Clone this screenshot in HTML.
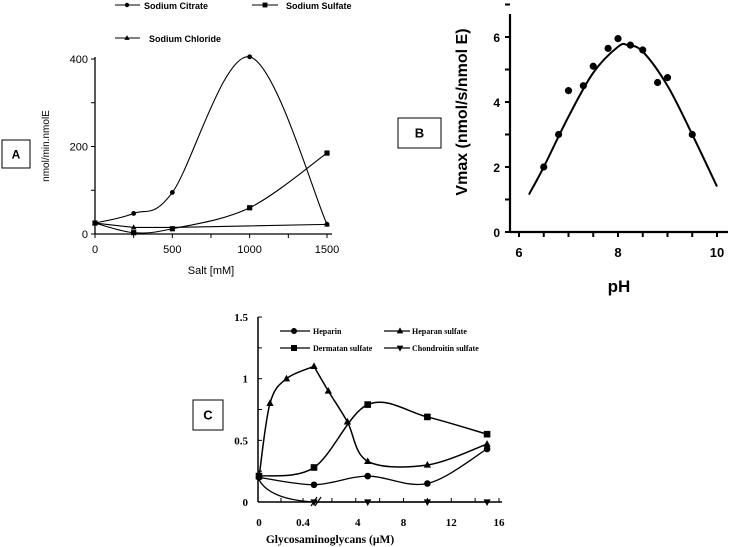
<!DOCTYPE html>
<html><head><meta charset="utf-8">
<style>
html,body{margin:0;padding:0;background:#fff;}
svg{display:block;}
.sa{font-family:"Liberation Sans",sans-serif;}
.ss{font-family:"Liberation Serif",serif;font-weight:bold;}
</style></head>
<body>
<svg id="c" width="729" height="547" viewBox="0 0 729 547" xmlns="http://www.w3.org/2000/svg"></svg>
<script>
// ---- Panel A data ----
const aX = [0, 250, 500, 1000, 1500];
const aCitrate = [25, 47, 95, 405, 22];
const aSulfate = [25, 3, 12, 60, 185];
const aChlorX = [0, 250, 500, 1500];
const aChloride = [25, 15, 15, 22];
const aXTicks = [0, 500, 1000, 1500];
const aYTicks = [0, 200, 400];
// ---- Panel B data ----
const bPtX = [6.5, 6.8, 7.0, 7.3, 7.5, 7.8, 8.0, 8.25, 8.5, 8.8, 9.0, 9.5];
const bPtY = [2.0, 3.0, 4.35, 4.5, 5.1, 5.65, 5.95, 5.75, 5.6, 4.6, 4.75, 3.0];
const bFitX = [6.2, 6.5, 7.0, 7.5, 8.0, 8.2, 8.5, 9.0, 9.5, 10.0];
const bFitY = [1.15, 2.0, 3.55, 4.9, 5.7, 5.75, 5.55, 4.5, 3.0, 1.4];
const bXTicks = [6, 8, 10];
const bYTicks = [0, 2, 4, 6];
// ---- Panel C data ----
const cHepX = [0, 0.5, 5, 10, 15];
const cHeparin = [0.2, 0.14, 0.21, 0.15, 0.43];
const cHsLowX = [0, 0.1, 0.25, 0.5];
const cHsLow = [0.2, 0.8, 1.0, 1.1];
const cHsHighX = [0.5, 1.7, 3.3, 5, 10, 15];
const cHsHigh = [1.1, 0.9, 0.65, 0.33, 0.3, 0.47];
const cDerX = [0, 0.5, 5, 10, 15];
const cDermatan = [0.21, 0.28, 0.79, 0.69, 0.55];
const cChX = [0, 0.5, 5, 10, 15];
const cChondroitin = [0.18, 0, 0, 0, 0];
const cXTickVals = [0, 0.4, 4, 8, 12, 16];
const cXTickLabels = ["0", "0.4", "4", "8", "12", "16"];
const cYTicks = [0, 0.5, 1, 1.5];
const cYTickLabels = ["0", "0.5", "1", "1.5"];

const svg = document.getElementById('c');
const NS = 'http://www.w3.org/2000/svg';
function mk(tag, attrs, parent) {
  const e = document.createElementNS(NS, tag);
  for (const k in attrs) e.setAttribute(k, attrs[k]);
  (parent || svg).appendChild(e);
  return e;
}
function txt(s, x, y, cls, size, anchor, name, extra) {
  const t = mk('text', Object.assign({x: x, y: y, class: cls, 'font-size': size, 'text-anchor': anchor || 'middle', fill: '#000'}, extra || {}));
  t.textContent = s;
  
  
  return t;
}
function smooth(pts) {
  let d = 'M' + pts[0][0] + ',' + pts[0][1];
  for (let i = 0; i < pts.length - 1; i++) {
    const p0 = pts[i - 1] || pts[i], p1 = pts[i], p2 = pts[i + 1], p3 = pts[i + 2] || p2;
    const c1 = [p1[0] + (p2[0] - p0[0]) / 6, p1[1] + (p2[1] - p0[1]) / 6];
    const c2 = [p2[0] - (p3[0] - p1[0]) / 6, p2[1] - (p3[1] - p1[1]) / 6];
    d += ' C' + c1 + ' ' + c2 + ' ' + p2;
  }
  return d;
}
function line(x1, y1, x2, y2, w, name) {
  const l = mk('line', {x1: x1, y1: y1, x2: x2, y2: y2, stroke: '#000', 'stroke-width': w || 1});
  
  
  return l;
}
function marker(type, x, y, r, name) {
  let e;
  if (type === 'circle') e = mk('circle', {cx: x, cy: y, r: r, fill: '#000'});
  else if (type === 'square') e = mk('rect', {x: x - r, y: y - r, width: 2 * r, height: 2 * r, fill: '#000'});
  else if (type === 'tri') e = mk('polygon', {points: [x, y - r * 1.2, x - r * 1.1, y + r * 0.8, x + r * 1.1, y + r * 0.8].join(' '), fill: '#000'});
  else e = mk('polygon', {points: [x, y + r * 1.2, x - r * 1.1, y - r * 0.8, x + r * 1.1, y - r * 0.8].join(' '), fill: '#000'});
  
  
  return e;
}
function box(label, x, y, w, h, size) {
  const r = mk('rect', {x: x, y: y, width: w, height: h, fill: '#fff', stroke: '#000', 'stroke-width': 1});
  
  
  txt(label, x + w / 2, y + h / 2 + size * 0.36, 'sa', size, 'middle', 'panel-label-' + label.toLowerCase(), {'font-weight': 'bold'});
}
function path(d, w, name) {
  const p = mk('path', {d: d, fill: 'none', stroke: '#000', 'stroke-width': w});
  
  
  return p;
}

// ===== Panel A =====
const axA = v => 95 + v * (327 - 95) / 1500;
const ayA = v => 234 - v * (234 - 59) / 400;
line(95, 57, 95, 234, 1.3, 'a-y-axis');
line(95, 234, 332, 234, 1.3, 'a-x-axis');
for (let v = 0; v <= 1500; v += 250) line(axA(v), 234, axA(v), 238, 1, 'a-x-tick');
for (let v = 0; v <= 400; v += 100) line(91, ayA(v), 95, ayA(v), 1, 'a-y-tick');
aXTicks.forEach(v => txt(String(v), axA(v), 253, 'sa', 11, 'middle', 'a-x-tick-label'));
aYTicks.forEach(v => txt(String(v), 88, ayA(v) + 4, 'sa', 11, 'end', 'a-y-tick-label'));
txt('Salt [mM]', 211, 274, 'sa', 11, 'middle', 'a-x-axis-title');
txt('nmol/min.nmolE', 49, 146, 'sa', 10, 'middle', 'a-y-axis-title', {transform: 'rotate(-90 49 146)'});
path(smooth(aX.map((v, i) => [axA(v), ayA(aCitrate[i])])), 1.1, 'a-citrate-line');
path(smooth(aX.map((v, i) => [axA(v), ayA(aSulfate[i])])), 1.1, 'a-sulfate-line');
path('M' + aChlorX.map((v, i) => axA(v) + ',' + ayA(aChloride[i])).join(' L'), 1.1, 'a-chloride-line');
aX.forEach((v, i) => marker('circle', axA(v), ayA(aCitrate[i]), 2.4, 'a-citrate-point'));
aX.forEach((v, i) => marker('square', axA(v), ayA(aSulfate[i]), 2.6, 'a-sulfate-point'));
[0, 1, 3].forEach(i => marker('tri', axA(aChlorX[i]), ayA(aChloride[i]), 2.6, 'a-chloride-point'));
// legend A
line(115, 5, 140, 5, 1, 'a-legend-citrate-line'); marker('circle', 127, 5, 2.2, 'a-legend-citrate-marker');
txt('Sodium Citrate', 144, 9, 'sa', 9, 'start', 'a-legend-citrate', {'font-weight': 'bold'});
line(252, 5, 278, 5, 1, 'a-legend-sulfate-line'); marker('square', 265, 5, 2.4, 'a-legend-sulfate-marker');
txt('Sodium Sulfate', 286, 9, 'sa', 9, 'start', 'a-legend-sulfate', {'font-weight': 'bold'});
line(115, 38, 140, 38, 1, 'a-legend-chloride-line'); marker('tri', 127, 38, 2.4, 'a-legend-chloride-marker');
txt('Sodium Chloride', 149, 42, 'sa', 9, 'start', 'a-legend-chloride', {'font-weight': 'bold'});
box('A', 2, 140, 28, 28, 12);

// ===== Panel B =====
const axB = v => 519 + (v - 6) * 49.5;
const ayB = v => 232 - v * 32.5;
line(510, 14, 510, 232, 2.2, 'b-y-axis');
line(510, 232, 728, 232, 2.2, 'b-x-axis');
for (let v = 0; v <= 7; v++) line(505, ayB(v), 510, ayB(v), 2, 'b-y-tick');
for (let v = 6; v <= 10; v += 0.5) line(axB(v), 232, axB(v), 237, 2, 'b-x-tick');
bXTicks.forEach(v => txt(String(v), axB(v), 257, 'sa', 13, 'middle', 'b-x-tick-label', {'font-weight': 'bold'}));
bYTicks.forEach(v => txt(String(v), 500, ayB(v) + 5, 'sa', 12, 'end', 'b-y-tick-label', {'font-weight': 'bold'}));
txt('pH', 619, 292, 'sa', 17, 'middle', 'b-x-axis-title', {'font-weight': 'bold'});
txt('Vmax (nmol/s/nmol E)', 467, 112, 'sa', 16, 'middle', 'b-y-axis-title', {'font-weight': 'bold', transform: 'rotate(-90 467 112)'});
path(smooth(bFitX.map((v, i) => [axB(v), ayB(bFitY[i])])), 2, 'b-fit-curve');
bPtX.forEach((v, i) => marker('circle', axB(v), ayB(bPtY[i]), 3.6, 'b-data-point'));
box('B', 398, 118, 43, 30, 13);

// ===== Panel C =====
const axC = v => v <= 0.5 ? 259 + v * 110 : 314 + (v - 0.5) * (499 - 314) / 15.5;
const ayC = v => 502 - v * 123.3;
line(258, 317, 258, 502, 1.5, 'c-y-axis');
line(258, 502, 502, 502, 1.5, 'c-x-axis');
for (let v = 0.25; v <= 1.5; v += 0.25) line(258, ayC(v), 262, ayC(v), 1, 'c-y-tick');
[0.2, 0.4].forEach(v => line(axC(v), 502, axC(v), 498, 1, 'c-x-tick'));
[2, 4, 6, 8, 10, 12, 14, 16].forEach(v => line(axC(v), 502, axC(v), 498, 1, 'c-x-tick'));
cXTickVals.forEach((v, i) => txt(cXTickLabels[i], axC(v) + (v === 4 ? 2 : 0), 526, 'ss', 11, 'middle', 'c-x-tick-label'));
cYTicks.forEach((v, i) => txt(cYTickLabels[i], 248, ayC(v) + 4, 'ss', 11, 'end', 'c-y-tick-label'));
txt('Glycosaminoglycans (µM)', 330, 543, 'ss', 11.5, 'middle', 'c-x-axis-title');
// axis break mark
line(311, 506, 317, 497, 1.2, 'c-axis-break');
line(315, 506, 321, 497, 1.2, 'c-axis-break');
path(smooth(cHepX.map((v, i) => [axC(v), ayC(cHeparin[i])])), 1.3, 'c-heparin-line');
path(smooth(cHsLowX.map((v, i) => [axC(v), ayC(cHsLow[i])])), 1.5, 'c-heparan-line-low');
path(smooth(cHsHighX.map((v, i) => [axC(v), ayC(cHsHigh[i])])), 1.5, 'c-heparan-line-high');
path(smooth(cDerX.map((v, i) => [axC(v), ayC(cDermatan[i])])), 1.5, 'c-dermatan-line');
path('M' + axC(cChX[0]) + ',' + ayC(cChondroitin[0]) +
  ' Q' + axC(0.1) + ',' + ayC(0.02) + ' ' + axC(cChX[1]) + ',' + ayC(cChondroitin[1]) +
  ' L' + cChX.slice(1).map((v, i) => axC(v) + ',' + ayC(cChondroitin[i + 1])).join(' L'), 1.3, 'c-chondroitin-line');
cHepX.forEach((v, i) => marker('circle', axC(v), ayC(cHeparin[i]), 3.3, 'c-heparin-point'));
cHsLowX.slice(1).forEach((v, i) => marker('tri', axC(v), ayC(cHsLow[i + 1]), 3.3, 'c-heparan-point'));
cHsHighX.slice(1).forEach((v, i) => marker('tri', axC(v), ayC(cHsHigh[i + 1]), 3.3, 'c-heparan-point'));
cDerX.forEach((v, i) => marker('square', axC(v), ayC(cDermatan[i]), 3.3, 'c-dermatan-point'));
cChX.slice(1).forEach((v, i) => marker('down', axC(v), ayC(cChondroitin[i + 1]), 3.3, 'c-chondroitin-point'));
// legend C
line(280, 331, 310, 331, 1.3, 'c-legend-heparin-line'); marker('circle', 294, 331, 3, 'c-legend-heparin-marker');
txt('Heparin', 313, 334, 'ss', 8, 'start', 'c-legend-heparin');
line(384, 331, 410, 331, 1.3, 'c-legend-heparan-line'); marker('tri', 400, 331, 3, 'c-legend-heparan-marker');
txt('Heparan sulfate', 412, 334, 'ss', 8, 'start', 'c-legend-heparan');
line(280, 348, 310, 348, 1.3, 'c-legend-dermatan-line'); marker('square', 294, 348, 3, 'c-legend-dermatan-marker');
txt('Dermatan sulfate', 313, 351, 'ss', 8, 'start', 'c-legend-dermatan');
line(384, 348, 410, 348, 1.3, 'c-legend-chondroitin-line'); marker('down', 400, 348, 3, 'c-legend-chondroitin-marker');
txt('Chondroitin sulfate', 412, 351, 'ss', 8, 'start', 'c-legend-chondroitin');
box('C', 193, 400, 30, 30, 13);
</script>
</body></html>
